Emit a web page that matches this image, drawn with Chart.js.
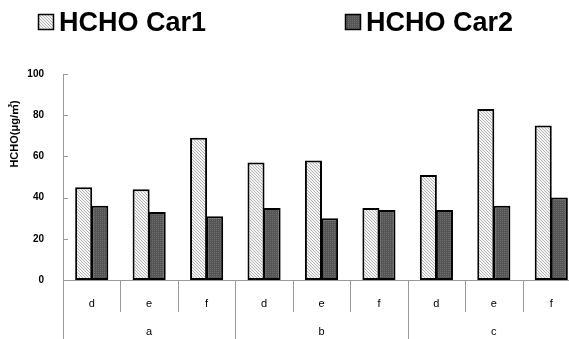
<!DOCTYPE html>
<html>
<head>
<meta charset="utf-8">
<script src="https://cdn.jsdelivr.net/npm/chart.js@4.4.0/dist/chart.umd.min.js"></script>
<style>
  body { margin: 0; background: #fff; overflow: hidden; }
  #wrap { width: 580px; height: 339px; position: relative; }
</style>
</head>
<body>
<div id="wrap"><canvas id="myChart"></canvas></div>
<script>
// datos de la grafica
const groups = ['a', 'b', 'c']
const subLabels = ['d', 'e', 'f', 'd', 'e', 'f', 'd', 'e', 'f']
const car1 = [45, 44, 69, 57, 58, 35, 51, 83, 75]
const car2 = [36, 33, 31, 35, 30, 34, 34, 36, 40]
const yTicks = [0, 20, 40, 60, 80, 100]
const seriesNames = ['HCHO Car1', 'HCHO Car2']
const yTitle = 'HCHO(μg/㎥)'

// patrones de relleno (rayado claro y punteado oscuro)
const makeHatch = () => {
  const c = document.createElement('canvas')
  c.width = 3; c.height = 3
  const g = c.getContext('2d')
  g.fillStyle = '#f4f4f4'
  g.fillRect(0, 0, 3, 3)
  g.fillStyle = '#b4b4b4'
  for (let i = 0; i < 3; i++) g.fillRect(i, i, 1, 1)
  return g.createPattern(c, 'repeat')
}
const makeDots = () => {
  const c = document.createElement('canvas')
  c.width = 2; c.height = 2
  const g = c.getContext('2d')
  g.fillStyle = '#555'
  g.fillRect(0, 0, 2, 2)
  g.fillStyle = '#6e6e6e'
  g.fillRect(0, 0, 1, 1)
  return g.createPattern(c, 'repeat')
}
const fills = [makeHatch(), makeDots()]

// dibuja leyenda, titulo del eje y, separadores y grupos
const extras = {
  id: 'extras',
  afterDraw(chart) {
    const ctx = chart.ctx
    const x = chart.scales.x
    const y = chart.scales.y
    const area = chart.chartArea
    ctx.save()

    // leyenda
    const legendX = [38, 345]
    ctx.font = 'bold 27px "Liberation Sans", Arial, sans-serif'
    ctx.textBaseline = 'alphabetic'
    ctx.textAlign = 'left'
    seriesNames.forEach((name, i) => {
      ctx.fillStyle = fills[i]
      ctx.fillRect(legendX[i], 14, 16, 16)
      ctx.strokeStyle = '#000'
      ctx.lineWidth = 1.5
      ctx.strokeRect(legendX[i] + 0.5, 14.5, 15, 15)
      ctx.fillStyle = '#000'
      ctx.fillText(name, legendX[i] + 21, 31)
    })

    // titulo eje y
    ctx.save()
    ctx.translate(15, 134)
    ctx.rotate(-Math.PI / 2)
    ctx.font = 'bold 11px "Liberation Sans", Arial, "Noto Sans CJK SC", sans-serif'
    ctx.textAlign = 'center'
    ctx.textBaseline = 'middle'
    ctx.fillText(yTitle, 0, 0)
    ctx.restore()

    // marcas interiores del eje y
    ctx.strokeStyle = '#999'
    ctx.lineWidth = 1
    yTicks.forEach(v => {
      const py = Math.round(y.getPixelForValue(v)) + 0.5
      ctx.beginPath()
      ctx.moveTo(area.left, py)
      ctx.lineTo(area.left + 5, py)
      ctx.stroke()
    })

    // separadores de categorias y grupos
    const step = x.getPixelForValue(1) - x.getPixelForValue(0)
    for (let i = 0; i <= subLabels.length; i++) {
      const px = Math.round(x.getPixelForValue(0) - step / 2 + i * step) + 0.5
      const isGroup = i % 3 === 0
      ctx.beginPath()
      ctx.moveTo(px, area.bottom)
      ctx.lineTo(px, isGroup ? 339 : 312)
      ctx.stroke()
    }

    // etiquetas de grupo
    ctx.fillStyle = '#000'
    ctx.font = '11px "Liberation Sans", Arial, sans-serif'
    ctx.textAlign = 'center'
    ctx.textBaseline = 'middle'
    groups.forEach((grp, i) => {
      const px = x.getPixelForValue(i * 3 + 1)
      ctx.fillText(grp, px, 332)
    })
    ctx.restore()
  }
}

const ctx = document.getElementById('myChart').getContext('2d')
const myChart = new Chart(ctx, {
  type: 'bar',
  data: {
    labels: subLabels,
    datasets: [
      { label: seriesNames[0], data: car1, backgroundColor: fills[0], borderColor: '#000', borderWidth: 2, borderSkipped: false },
      { label: seriesNames[1], data: car2, backgroundColor: fills[1], borderColor: '#000', borderWidth: 2, borderSkipped: false }
    ]
  },
  options: {
    responsive: true,
    maintainAspectRatio: false,
    animation: false,
    layout: { padding: { top: 74, left: 0, right: 0, bottom: 0 } },
    datasets: { bar: { categoryPercentage: 0.56, barPercentage: 1.06 } },
    plugins: { legend: { display: false }, tooltip: { enabled: false } },
    scales: {
      x: {
        grid: { display: false },
        border: { display: true, color: '#999', width: 1 },
        ticks: { color: '#000', font: { size: 11, family: '"Liberation Sans", Arial, sans-serif' }, padding: 9 },
        afterFit: s => { s.height = 59 }
      },
      y: {
        min: 0,
        max: 100,
        afterBuildTicks: s => { s.ticks = yTicks.map(v => ({ value: v })) },
        grid: { display: false },
        border: { display: true, color: '#999', width: 1 },
        ticks: { color: '#000', padding: 11, font: { size: 10, weight: 'bold', family: '"Liberation Sans", Arial, sans-serif' } },
        afterFit: s => { s.width = 63 }
      }
    }
  },
  plugins: [extras]
})
</script>
</body>
</html>
